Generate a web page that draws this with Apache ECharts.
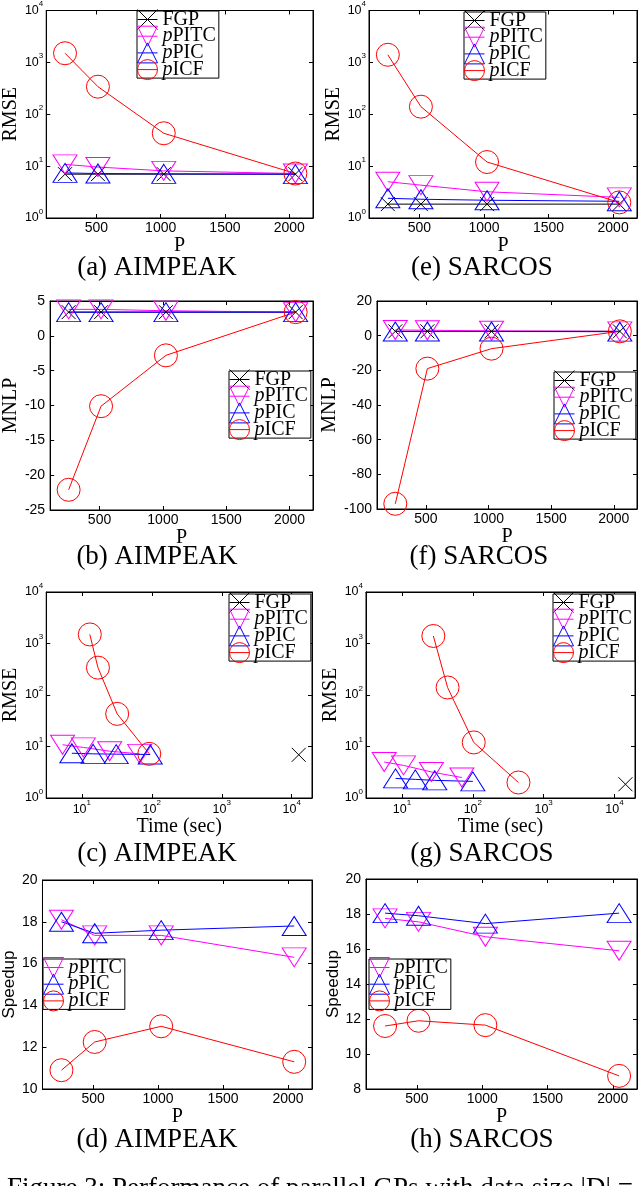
<!DOCTYPE html>
<html><head><meta charset="utf-8">
<script src="https://cdn.jsdelivr.net/npm/echarts@6/dist/echarts.min.js"></script>
<style>html,body{margin:0;padding:0;background:#fff}#c{width:640px;height:1186px}</style>
</head><body><div id="c"></div>
<script>
// ---------- data ----------
const P = [256, 512, 1024, 2048];
const pTickLabels = [500, 1000, 1500, 2000];
const logTickExps = [0, 1, 2, 3, 4];

const aimpeakRmseFGP  = [7.0, 7.0, 7.0, 7.0];
const aimpeakRmsePITC = [10.8, 9.6, 8.1, 7.2];
const aimpeakRmsePIC  = [7.4, 7.2, 7.1, 7.0];
const aimpeakRmseICF  = [1500, 340, 43, 7.2];

const sarcosRmseFGP  = [1.85, 1.85, 1.85, 1.85];
const sarcosRmsePITC = [5.0, 4.3, 3.2, 2.5];
const sarcosRmsePIC  = [2.4, 2.3, 2.2, 2.1];
const sarcosRmseICF  = [1400, 140, 12, 2.0];

const aimpeakMnlpFGP  = [3.4, 3.4, 3.4, 3.4];
const aimpeakMnlpPITC = [3.8, 3.8, 3.6, 3.4];
const aimpeakMnlpPIC  = [3.4, 3.4, 3.4, 3.4];
const aimpeakMnlpICF  = [-22.1, -10.1, -2.8, 3.4];

const sarcosMnlpFGP  = [2.5, 2.5, 2.5, 2.5];
const sarcosMnlpPITC = [3.3, 3.1, 2.8, 2.5];
const sarcosMnlpPIC  = [2.4, 2.4, 2.4, 2.3];
const sarcosMnlpICF  = [-97, -19, -7.5, 2.5];

const aimpeakTimeFGP  = [12600];
const aimpeakTimeFGPRmse = [6.9];
const aimpeakTimePITC = [5.3, 10.5, 25, 67];
const aimpeakTimePIC  = [7.2, 14.5, 31, 95];
const aimpeakTimeICF  = [13, 17, 32, 92];

const sarcosTimeFGP  = [14300];
const sarcosTimeFGPRmse = [1.85];
const sarcosTimePITC = [5.6, 10.5, 26, 70];
const sarcosTimePIC  = [8.1, 15.4, 29, 100];
const sarcosTimeICF  = [27.7, 44, 103, 441];

const aimpeakSpeedPITC = [18.1, 17.35, 17.35, 16.3];
const aimpeakSpeedPIC  = [18.0, 17.45, 17.6, 17.8];
const aimpeakSpeedICF  = [10.9, 12.25, 13.0, 11.3];

const sarcosSpeedPITC = [17.75, 17.55, 16.7, 15.9];
const sarcosSpeedPIC  = [18.05, 17.9, 17.45, 18.05];
const sarcosSpeedICF  = [11.6, 11.9, 11.65, 8.75];

const names4 = ['FGP', 'pPITC', 'pPIC', 'pICF'];
const names3 = ['pPITC', 'pPIC', 'pICF'];

// ---------- styles ----------
const SERIF = "'Liberation Serif', 'Times New Roman', serif";
const SANS = "'Liberation Sans', Arial, sans-serif";
const X_PATH = 'path://M0,0L10,10M10,0L0,10';
const COLORS = {FGP: '#000000', pPITC: '#ff00ff', pPIC: '#0000ff', pICF: '#ff0000'};
const SYMBOLS = {FGP: X_PATH, pPITC: 'triangle', pPIC: 'triangle', pICF: 'circle'};
const ROT = {FGP: 0, pPITC: 180, pPIC: 0, pICF: 0};
const SIZES = {FGP: [14, 14], pPITC: [24, 19], pPIC: [24, 19], pICF: [23, 23]};

function pairs(xs, ys) { return xs.map((x, i) => [x, ys[i]]); }

function logLabel(v) {
  const e = Math.log10(v), r = Math.round(e);
  if (Math.abs(e - r) > 1e-6 || logTickExps.indexOf(r) < 0) return '';
  return '{b|10}{s|' + r + '}';
}
const logRich = {
  b: {fontSize: 12.5, lineHeight: 21, fontFamily: SANS, color: '#000'},
  s: {fontSize: 8, lineHeight: 9, verticalAlign: 'top', fontFamily: SANS, color: '#000'}
};
function pLabel(v) { return pTickLabels.indexOf(v) >= 0 ? String(v) : ''; }

const P_MIN = 110, P_MAX = 2185;
const T_MIN = 3.1, T_MAX = 19500;

const panels = [
  {box: [44, 9, 269, 209], x: 'P', y: 'log', yName: 'RMSE', yGap: 23, xName: 'P', xGap: 9,
   series: {FGP: pairs(P, aimpeakRmseFGP), pPITC: pairs(P, aimpeakRmsePITC), pPIC: pairs(P, aimpeakRmsePIC), pICF: pairs(P, aimpeakRmseICF)},
   legend: [137, 11, names4], cap: '(a) AIMPEAK', capPos: [157, 268]},
  {box: [369, 9, 269, 209], x: 'P', y: 'log', yName: 'RMSE', yGap: 25, xName: 'P', xGap: 9,
   series: {FGP: pairs(P, sarcosRmseFGP), pPITC: pairs(P, sarcosRmsePITC), pPIC: pairs(P, sarcosRmsePIC), pICF: pairs(P, sarcosRmseICF)},
   legend: [464, 12, names4], cap: '(e) SARCOS', capPos: [482, 268]},
  {box: [44, 301, 269, 209], x: 'P', y: 'value', yMin: -25, yMax: 5, yInt: 5, yName: 'MNLP', yGap: 25, xName: 'P', xGap: 11,
   series: {FGP: pairs(P, aimpeakMnlpFGP), pPITC: pairs(P, aimpeakMnlpPITC), pPIC: pairs(P, aimpeakMnlpPIC), pICF: pairs(P, aimpeakMnlpICF)},
   legend: [229, 371, names4], cap: '(b) AIMPEAK', capPos: [157, 557]},
  {box: [377, 301, 261, 208], x: 'P', y: 'value', yMin: -100, yMax: 20, yInt: 20, yName: 'MNLP', yGap: 33, xName: 'P', xGap: 12,
   series: {FGP: pairs(P, sarcosMnlpFGP), pPITC: pairs(P, sarcosMnlpPITC), pPIC: pairs(P, sarcosMnlpPIC), pICF: pairs(P, sarcosMnlpICF)},
   legend: [554, 372, names4], cap: '(f) SARCOS', capPos: [479, 557]},
  {box: [41, 592, 271, 206], x: 'log', y: 'log', yName: 'RMSE', yGap: 22, xName: 'Time (sec)', xGap: 15,
   series: {FGP: pairs(aimpeakTimeFGP, aimpeakTimeFGPRmse), pPITC: pairs(aimpeakTimePITC, aimpeakRmsePITC), pPIC: pairs(aimpeakTimePIC, aimpeakRmsePIC), pICF: pairs(aimpeakTimeICF, aimpeakRmseICF)},
   legend: [229, 594, names4], cap: '(c) AIMPEAK', capPos: [157, 854]},
  {box: [366, 592, 269, 206], x: 'log', y: 'log', yName: 'RMSE', yGap: 22, xName: 'Time (sec)', xGap: 15,
   series: {FGP: pairs(sarcosTimeFGP, sarcosTimeFGPRmse), pPITC: pairs(sarcosTimePITC, sarcosRmsePITC), pPIC: pairs(sarcosTimePIC, sarcosRmsePIC), pICF: pairs(sarcosTimeICF, sarcosRmseICF)},
   legend: [553, 594, names4], cap: '(g) SARCOS', capPos: [482, 854]},
  {box: [40, 880, 272, 209], x: 'P', y: 'value', yMin: 10, yMax: 20, yInt: 2, yName: 'Speedup', yGap: 21, ySans: true, xName: 'P', xGap: 11,
   series: {pPITC: pairs(P, aimpeakSpeedPITC), pPIC: pairs(P, aimpeakSpeedPIC), pICF: pairs(P, aimpeakSpeedICF)},
   legend: [43, 959, names3], cap: '(d) AIMPEAK', capPos: [157, 1140]},
  {box: [366, 879, 271, 210], x: 'P', y: 'value', yMin: 8, yMax: 20, yInt: 2, yName: 'Speedup', yGap: 22, ySans: true, xName: 'P', xGap: 11,
   series: {pPITC: pairs(P, sarcosSpeedPITC), pPIC: pairs(P, sarcosSpeedPIC), pICF: pairs(P, sarcosSpeedICF)},
   legend: [369, 959, names3], cap: '(h) SARCOS', capPos: [482, 1140]}
];

const option = {
  animation: false, backgroundColor: '#fff',
  grid: [], xAxis: [], yAxis: [], series: [], legend: [], title: []
};

const axisLineBlack = {show: true, onZero: false, lineStyle: {color: '#000', width: 1}};
const tickIn = {show: true, inside: true, length: 4, lineStyle: {color: '#000', width: 1}};

function legendFmt(name) {
  return name.charAt(0) === 'p' ? '{i|p}{n|' + name.slice(1) + '}' : '{n|' + name + '}';
}

panels.forEach((pn, gi) => {
  const [l, t, w, h] = pn.box;
  option.grid.push({left: l, top: t, width: w, height: h, show: true, borderColor: '#000', borderWidth: 1, backgroundColor: 'transparent'});

  ['bottom', 'top'].forEach(pos => {
    const ax = {gridIndex: gi, position: pos, axisLine: axisLineBlack, axisTick: tickIn, splitLine: {show: false}};
    if (pn.x === 'P') {
      Object.assign(ax, {type: 'value', min: P_MIN, max: P_MAX,
        axisLabel: {show: pos === 'bottom', formatter: pLabel, fontFamily: SANS, fontSize: 14, color: '#000', margin: 3}});
    } else {
      Object.assign(ax, {type: 'log', logBase: 10, min: T_MIN, max: T_MAX,
        axisLabel: {show: pos === 'bottom', formatter: logLabel, rich: logRich, margin: 1}});
    }
    if (pos === 'bottom') {
      Object.assign(ax, {name: pn.xName, nameLocation: 'middle', nameGap: pn.xGap,
        nameTextStyle: {fontFamily: SERIF, fontSize: 20, color: '#000'}});
    }
    option.xAxis.push(ax);
  });

  ['left', 'right'].forEach(pos => {
    const ax = {gridIndex: gi, position: pos, axisLine: axisLineBlack, axisTick: tickIn, splitLine: {show: false}};
    if (pn.y === 'log') {
      Object.assign(ax, {type: 'log', logBase: 10, min: 1, max: 10000,
        axisLabel: {show: pos === 'left', formatter: logLabel, rich: logRich, margin: 3}});
    } else {
      Object.assign(ax, {type: 'value', min: pn.yMin, max: pn.yMax, interval: pn.yInt,
        axisLabel: {show: pos === 'left', fontFamily: SANS, fontSize: 14, color: '#000', margin: 5}});
    }
    if (pos === 'left') {
      Object.assign(ax, {name: pn.yName, nameLocation: 'middle', nameGap: pn.yGap, nameRotate: 90,
        nameTextStyle: pn.ySans ? {fontFamily: SANS, fontSize: 17, color: '#000'} : {fontFamily: SERIF, fontSize: 20, color: '#000'}});
    }
    option.yAxis.push(ax);
  });

  Object.keys(pn.series).forEach(nm => {
    option.series.push({
      type: 'line', name: nm, xAxisIndex: gi * 2, yAxisIndex: gi * 2,
      data: pn.series[nm],
      symbol: SYMBOLS[nm], symbolSize: SIZES[nm], symbolRotate: ROT[nm], showAllSymbol: true,
      itemStyle: {color: 'rgba(0,0,0,0)', borderColor: COLORS[nm], borderWidth: 1},
      lineStyle: {color: COLORS[nm], width: 1},
      emphasis: {disabled: true}, silent: true, clip: false
    });
  });

  const [ll, lt, lnames] = pn.legend;
  option.legend.push({
    left: ll, top: lt, orient: 'vertical', data: lnames,
    itemWidth: 20, itemHeight: 25, itemGap: -4.3, padding: [-2, 3, -2, 0],
    borderColor: '#000', borderWidth: 1, backgroundColor: '#fff',
    selectedMode: false, formatter: legendFmt,
    itemStyle: {borderWidth: 1}, lineStyle: {width: 1},
    textStyle: {fontFamily: SERIF, fontSize: 20, color: '#000', lineHeight: 16,
      rich: {i: {fontFamily: SERIF, fontStyle: 'italic', fontSize: 20, lineHeight: 16, color: '#000'},
             n: {fontFamily: SERIF, fontSize: 20, lineHeight: 16, color: '#000'}}}
  });

  option.title.push({
    text: pn.cap, left: pn.capPos[0], top: pn.capPos[1], textAlign: 'center', textVerticalAlign: 'middle', padding: 0,
    textStyle: {fontFamily: SERIF, fontSize: 27, fontWeight: 'normal', color: '#000'}
  });
});

option.title.push({
  text: 'Figure 3: Performance of parallel GPs with data size |D| =', left: 7, top: 1175, padding: 0,
  textStyle: {fontFamily: SERIF, fontSize: 27, fontWeight: 'normal', color: '#000'}
});

const chart = echarts.init(document.getElementById('c'), null, {renderer: 'canvas'});
chart.setOption(option);
</script>
</body></html>
